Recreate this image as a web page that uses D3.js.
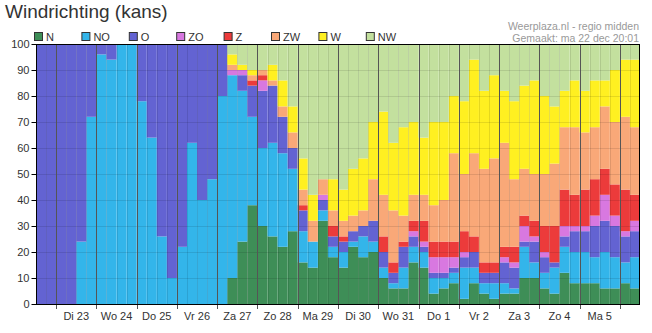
<!DOCTYPE html>
<html>
<head>
<meta charset="utf-8">
<script src="https://cdn.jsdelivr.net/npm/d3@7"></script>
<style>
  body { margin: 0; background: #fff; }
  svg { display: block; }
  text { font-family: "Liberation Sans", Arial, sans-serif; }
</style>
</head>
<body>
<svg id="chart" width="652" height="333"></svg>
<script>
// Wind direction probabilities (%) per 6-hour step, 60 steps
const directions = ["N", "NO", "O", "ZO", "Z", "ZW", "W", "NW"];
const colors = ["#3e8e57", "#33b5ea", "#6363d2", "#d878e0", "#ec3b3b", "#f9a878", "#fff021", "#c3e09e"];
const dayLabels = ["Di 23", "Wo 24", "Do 25", "Vr 26", "Za 27", "Zo 28", "Ma 29", "Di 30", "Wo 31", "Do 1", "Vr 2", "Za 3", "Zo 4", "Ma 5"];
const yTicks = [0, 10, 20, 30, 40, 50, 60, 70, 80, 90, 100];
const stepsBeforeFirstDay = 2;
const stepsPerDay = 4;

const N  = [0,0,0,0,0,0,0,0,0,0, 0,0,0,0,0,0,0,0,0,10, 24,38,30,26,22,28,16,14,32,18, 14,22,18,20,10,6,6,16,14,4, 6,8,2,8,4,2,4,4,10,10, 6,4,12,8,8,8,6,6,8,6];
const NO = [0,0,0,0,24,72,96,94,100,100, 78,64,26,10,22,62,40,48,80,78, 58,34,30,36,36,24,12,10,4,4, 6,2,8,4,4,2,8,6,6,6, 4,4,12,6,4,6,4,2,12,6, 6,10,10,12,12,10,14,12,8,12];
const O  = [100,100,100,100,76,28,4,6,0,0, 22,36,74,90,78,38,60,52,20,0, 6,12,22,22,14,8,8,0,4,4, 4,4,4,8,6,4,8,4,2,2, 2,2,4,6,4,4,8,8,2,8, 6,2,4,8,8,12,12,12,10,10];
const ZO = [0,0,0,0,0,0,0,0,0,0, 0,0,0,0,0,0,0,0,0,2, 2,0,4,0,0,0,0,0,2,0, 0,0,0,0,0,0,0,2,2,6, 6,4,2,0,0,0,2,2,6,2, 2,0,4,2,2,4,10,4,2,4];
const Z  = [0,0,0,0,0,0,0,0,0,0, 0,0,0,0,0,0,0,0,0,0, 0,2,2,0,0,0,2,0,0,4, 2,0,0,0,6,4,2,4,8,6, 6,6,8,6,4,4,4,6,4,6, 10,14,14,12,14,14,10,12,16,10];
const ZW = [0,0,0,0,0,0,0,0,0,0, 0,0,0,0,0,0,0,0,0,2, 0,2,2,2,4,6,6,8,6,6, 6,6,6,16,16,20,10,10,10,14, 16,34,22,32,36,40,40,26,18,18, 20,24,24,26,22,20,24,24,28,26];
const W  = [0,0,0,0,0,0,0,0,0,0, 0,0,0,0,0,0,0,0,0,4, 2,2,0,6,10,10,12,10,0,12, 12,18,20,22,32,26,34,28,22,32, 30,22,28,36,30,32,20,30,32,36, 30,22,14,18,16,18,10,20,22,26];
const NW = [0,0,0,0,0,0,0,0,0,0, 0,0,0,0,0,0,0,0,0,4, 8,10,10,8,14,24,44,58,52,52, 56,48,44,30,26,38,32,30,36,30, 30,20,22,6,18,12,18,22,16,14, 20,24,18,14,18,14,14,10,6,6];

const series = [N, NO, O, ZO, Z, ZW, W, NW];
const rows = N.map((_, i) => {
  const r = { step: i };
  directions.forEach((d, k) => { r[d] = series[k][i]; });
  return r;
});

const svg = d3.select("#chart");
const plotLeft = 36, plotRight = 640, plotTop = 44, plotBottom = 304;

const x = d3.scaleBand().domain(rows.map(r => r.step)).range([plotLeft, plotRight]).padding(0);
const y = d3.scaleLinear().domain([0, 100]).range([plotBottom, plotTop]);
const color = d3.scaleOrdinal().domain(directions).range(colors);

const stacked = d3.stack().keys(directions)(rows);

// stacked bars
const plot = svg.append("g");
plot.selectAll("g.layer")
  .data(stacked)
  .join("g")
  .attr("class", "layer")
  .attr("fill", d => color(d.key))
  .selectAll("rect")
  .data(d => d.filter(p => p[1] > p[0]))
  .join("rect")
  .attr("x", p => x(p.data.step))
  .attr("width", x.bandwidth())
  .attr("y", p => y(p[1]))
  .attr("height", p => y(p[0]) - y(p[1]));

// faint grid: bar separators and 10% lines
const grid = svg.append("g").attr("stroke", "#000").attr("stroke-opacity", 0.1).attr("shape-rendering", "crispEdges");
rows.slice(1).forEach(r => {
  const xp = Math.round(x(r.step)) + 0.5;
  grid.append("line").attr("x1", xp).attr("x2", xp).attr("y1", plotTop).attr("y2", plotBottom);
});
yTicks.slice(1, -1).forEach(t => {
  const yp = Math.round(y(t)) + 0.5;
  grid.append("line").attr("x1", plotLeft).attr("x2", plotRight).attr("y1", yp).attr("y2", yp);
});

// day boundaries
const dayStarts = dayLabels.map((_, k) => stepsBeforeFirstDay + k * stepsPerDay);
dayStarts.push(stepsBeforeFirstDay + dayLabels.length * stepsPerDay);
const dayLines = svg.append("g").attr("stroke", "#555").attr("stroke-width", 1).attr("shape-rendering", "crispEdges");
dayStarts.forEach(s => {
  const xp = Math.round(x(s)) + 0.5;
  dayLines.append("line").attr("x1", xp).attr("x2", xp).attr("y1", plotTop).attr("y2", plotBottom + 5);
});

// frame
svg.append("rect")
  .attr("x", plotLeft + 0.5).attr("y", plotTop + 0.5)
  .attr("width", plotRight - plotLeft - 1).attr("height", plotBottom - plotTop)
  .attr("fill", "none").attr("stroke", "#000").attr("shape-rendering", "crispEdges");

// y axis
const yAxis = d3.axisLeft(y).tickValues(yTicks).tickSize(5).tickPadding(2);
svg.append("g")
  .attr("transform", `translate(${plotLeft + 0.5},0)`)
  .call(yAxis)
  .call(g => g.select(".domain").remove())
  .call(g => g.selectAll("text").attr("font-size", 11).attr("fill", "#333").attr("font-family", "'Liberation Sans', Arial, sans-serif"))
  .call(g => g.selectAll("line").attr("stroke", "#000"));

// day labels
svg.append("g").selectAll("text")
  .data(dayLabels)
  .join("text")
  .attr("x", (d, k) => x(dayStarts[k]) + x.bandwidth() * stepsPerDay / 2)
  .attr("y", 320)
  .attr("text-anchor", "middle")
  .attr("font-size", 11)
  .attr("fill", "#333")
  .text(d => d);

// title
svg.append("text")
  .attr("x", 5).attr("y", 18)
  .attr("font-size", 19)
  .attr("fill", "#333")
  .text("Windrichting (kans)");

// legend
const legend = svg.append("g").selectAll("g")
  .data(directions)
  .join("g")
  .attr("transform", (d, k) => `translate(${34 + k * 47.4},32)`);
legend.append("rect")
  .attr("x", 0.5).attr("y", 0.5).attr("width", 8).attr("height", 8)
  .attr("fill", d => color(d)).attr("stroke", "#333");
legend.append("text")
  .attr("x", 12).attr("y", 8.5)
  .attr("font-size", 11)
  .attr("fill", "#333")
  .text(d => d);

// source info
const info = svg.append("g").attr("text-anchor", "end").attr("fill", "#999").attr("font-size", 10.5);
info.append("text").attr("x", 639).attr("y", 30).text("Weerplaza.nl - regio midden");
info.append("text").attr("x", 639).attr("y", 42).text("Gemaakt: ma 22 dec 20:01");
</script>
</body>
</html>
